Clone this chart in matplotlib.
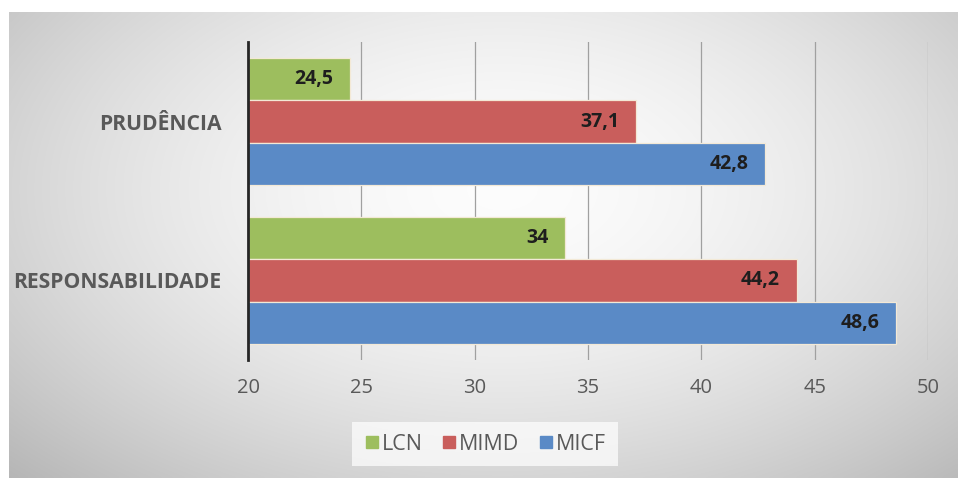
import numpy as np
import matplotlib
matplotlib.use("Agg")
import matplotlib.pyplot as plt
from matplotlib.lines import Line2D

categories = ["PRUDÊNCIA", "RESPONSABILIDADE"]
series_names = ["LCN", "MIMD", "MICF"]
lcn = [24.5, 34]
mimd = [37.1, 44.2]
micf = [42.8, 48.6]
value_labels = {"LCN": ["24,5", "34"], "MIMD": ["37,1", "44,2"], "MICF": ["42,8", "48,6"]}
xticks = [20, 25, 30, 35, 40, 45, 50]

colors = {"LCN": "#9DBE5E", "MIMD": "#C95E5C", "MICF": "#5A8AC6"}
plt.rcParams["font.family"] = ["Open Sans", "DejaVu Sans"]

W, H = 958, 478
fig = plt.figure(figsize=(W / 100, H / 100), dpi=100)
fig.patch.set_facecolor("white")

# background radial gradient panel
bg = fig.add_axes([9 / W, 0, (W - 9) / W, (H - 12) / H], zorder=-10)
nx, ny = 400, 200
xx, yy = np.meshgrid(np.linspace(0, 1, nx), np.linspace(0, 1, ny))
r = np.sqrt(((xx - 0.52) / 0.62) ** 2 + ((yy - 0.38) / 0.75) ** 2)
val = 0.99 - 0.21 * np.clip(r, 0, 1.3) ** 1.7
img = np.dstack([val, val, val])
bg.imshow(img, aspect="auto", extent=[0, 1, 1, 0], interpolation="bicubic")
bg.set_axis_off()

# main axes
left, right = 248 / W, 928 / W
top, bottom = 1 - 42 / H, 1 - 360 / H
ax = fig.add_axes([left, bottom, right - left, top - bottom])
ax.set_facecolor("none")

bh = 0.268
ypos = np.arange(len(categories))
data = {"LCN": lcn, "MIMD": mimd, "MICF": micf}
offsets = {"LCN": -bh, "MIMD": 0.0, "MICF": bh}
for name in series_names:
    vals = data[name]
    base = 20
    ax.barh(ypos + offsets[name], [v - base for v in vals], left=base, height=bh,
            color=colors[name], edgecolor="#F3E9D6", linewidth=0.9, zorder=3)
    for y, v, lab in zip(ypos + offsets[name], vals, value_labels[name]):
        ax.annotate(lab, xy=(v, y), xytext=(-12, 0), textcoords="offset points",
                    ha="right", va="center", fontsize=14, fontweight="bold",
                    color="#1E1E1E", zorder=5)

ax.set_xlim(20, 50)
ax.set_ylim(1.5, -0.5)
ax.set_xticks(xticks)
ax.set_xticklabels([str(t) for t in xticks])
ax.set_yticks(ypos)
ax.set_yticklabels(categories)
ax.grid(axis="x", color="#A0A0A0", linewidth=0.9, zorder=0)
ax.set_axisbelow(True)
for s in ["top", "right", "bottom"]:
    ax.spines[s].set_visible(False)
ax.spines["left"].set_color("#262626")
ax.spines["left"].set_linewidth(2.0)
ax.spines["left"].set_zorder(4)
ax.tick_params(axis="x", length=0, pad=13, labelsize=14.5, labelcolor="#595959")
ax.tick_params(axis="y", length=0, pad=19, labelsize=15.2, labelcolor="#595959")
for t in ax.get_yticklabels():
    t.set_fontweight("bold")

# legend
handles = [Line2D([0], [0], marker="s", linestyle="none", markersize=9,
                  markerfacecolor=colors[n], markeredgecolor=colors[n]) for n in series_names]
leg = fig.legend(handles, series_names, loc="center", bbox_to_anchor=(485 / W, 1 - 444 / H),
                 ncol=3, frameon=True, fontsize=15.5, handletextpad=0.1, columnspacing=0.9,
                 handlelength=0.7, borderpad=0.55, labelcolor="#595959")
leg.get_frame().set_facecolor("white")
leg.get_frame().set_alpha(0.7)
leg.get_frame().set_edgecolor("none")
leg.get_frame().set_boxstyle("square", pad=0.0)

fig.savefig("out.png", dpi=100)
